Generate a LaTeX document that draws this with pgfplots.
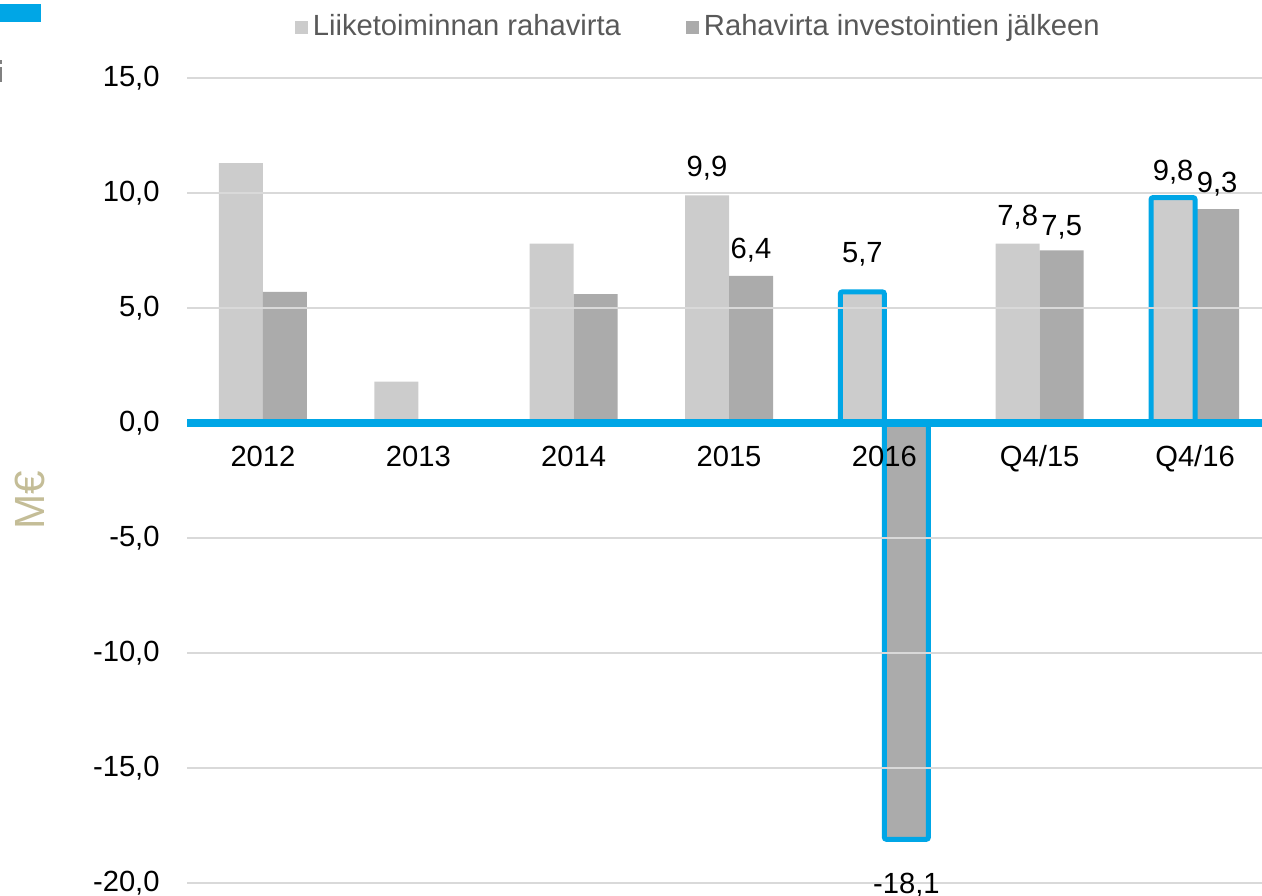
\documentclass[border=0pt]{standalone}
\usepackage{fontspec}
\setmainfont{Liberation Sans}
\usepackage{pgfplots}
\usepackage{pgfplotstable}
\pgfplotsset{compat=1.18}

\definecolor{lightbar}{HTML}{CCCCCC}
\definecolor{darkbar}{HTML}{ABABAB}
\definecolor{hlblue}{HTML}{00A6E6}
\definecolor{gridgray}{HTML}{D9D9D9}
\definecolor{legtext}{HTML}{595959}
\definecolor{unitcol}{HTML}{C4BD97}
\newcommand\chartfont{\fontsize{8.3}{10}\selectfont}

% Liiketoiminnan rahavirta
\pgfplotstableread{
x y
0 11.3
1 1.8
2 7.8
3 9.9
4 5.7
5 7.8
6 9.8
}\liike
% Rahavirta investointien jalkeen
\pgfplotstableread{
x y
0 5.7
1 0.1
2 5.6
3 6.4
4 -18.1
5 7.5
6 9.3
}\invest
% highlighted bars
\pgfplotstableread{
x y
4 5.7
6 9.8
}\hlliike
\pgfplotstableread{
x y
4 -18.1
}\hlinvest
% value labels, dy = label centre offset from bar end (0.1 mm)
\pgfplotstableread{
x y dy
3 9.9 27
4 5.7 38
5 7.8 26
6 9.8 25
}\labliike
\pgfplotstableread{
x y dy
3 6.4 26
4 -18.1 -46
5 7.5 23
6 9.3 25
}\labinvest

\begin{document}
\begin{tikzpicture}
\begin{axis}[
    at={(18.7mm,1.3mm)}, anchor=south west,
    scale only axis, width=107.5mm, height=80.5mm,
    xmin=-0.489, xmax=6.431, ymin=-20, ymax=15,
    ybar, bar width=4.4mm,
    axis on top,
    axis line style={draw=none},
    major tick length=0pt,
    xtick={0,...,6},
    xticklabels={2012,2013,2014,2015,2016,Q4/15,Q4/16},
    ytick={-20,-15,-10,-5,5,10,15},
    extra y ticks={0}, extra y tick style={grid=none},
    ymajorgrids, grid style={gridgray, line width=0.2mm},
    /pgf/number format/.cd, fixed, fixed zerofill, precision=1, use comma, assume math mode=true, /pgfplots/.cd,
    tick label style={font=\chartfont, text=black},
    yticklabel style={xshift=-1.5mm},
    xticklabel style={anchor=center, text height=1.6ex, text depth=0.3ex, yshift=42.9mm},
    legend style={at={(axis description cs:0.477,1.063)}, anchor=center,
        draw=none, fill=none, legend columns=2, font=\chartfont, text=legtext,
        nodes={inner xsep=0.5mm},
        /tikz/every even column/.append style={column sep=6mm}},
    legend image code/.code={\path[#1, draw=none] (0mm,-0.65mm) rectangle (1.3mm,0.65mm);},
    clip=false,
]
\addplot[fill=lightbar, draw=none, bar shift=-2.2mm] table[x=x, y=y] {\liike};
\addplot[fill=darkbar, draw=none, bar shift=2.2mm] table[x=x, y=y] {\invest};
\legend{Liiketoiminnan rahavirta, Rahavirta investointien jälkeen}
\addplot[forget plot, fill=none, draw=hlblue, line width=0.5mm, rounded corners=0.2mm, bar shift=-2.2mm] table[x=x, y=y] {\hlliike};
\addplot[forget plot, fill=none, draw=hlblue, line width=0.5mm, rounded corners=0.2mm, bar shift=2.2mm] table[x=x, y=y] {\hlinvest};
\draw[hlblue, line width=0.8mm] (axis cs:-0.489,0) -- (axis cs:6.431,0);
\addplot[forget plot, fill=none, draw=none, bar shift=-2.2mm,
    visualization depends on={\thisrow{dy} \as \dy},
    nodes near coords,
    every node near coord/.append style={anchor=center, yshift=\dy*0.1mm, font=\chartfont, text=black}]
    table[x=x, y=y] {\labliike};
\addplot[forget plot, fill=none, draw=none, bar shift=2.2mm,
    visualization depends on={\thisrow{dy} \as \dy},
    nodes near coords,
    every node near coord/.append style={anchor=center, yshift=\dy*0.1mm, font=\chartfont, text=black}]
    table[x=x, y=y] {\labinvest};
\end{axis}
\node[rotate=90, text=unitcol, font=\fontsize{12}{14}\selectfont] at (3.0mm,39.6mm) {M€};
\fill[hlblue] (0mm,87.4mm) rectangle (4.1mm,89.2mm);
\fill[gray] (0mm,83.2mm) rectangle (0.25mm,83.6mm);
\fill[gray] (0mm,81.4mm) rectangle (0.25mm,82.9mm);
\pgfresetboundingbox
\path[use as bounding box] (0mm,0mm) rectangle (126.2mm,89.6mm);
\end{tikzpicture}
\end{document}
